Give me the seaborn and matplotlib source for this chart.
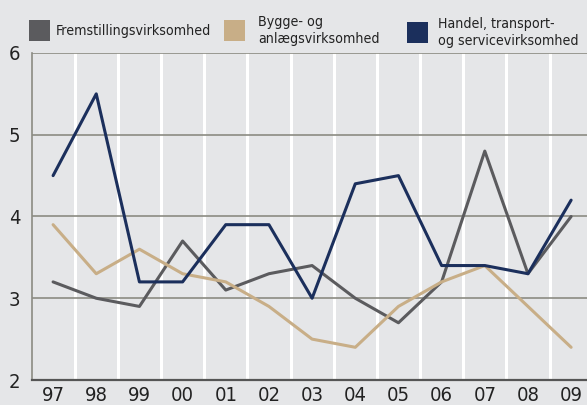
import matplotlib
matplotlib.use("Agg")
import matplotlib.pyplot as plt
import seaborn as sns
import pandas as pd
from matplotlib.patches import Rectangle

years = ["97", "98", "99", "00", "01", "02", "03", "04", "05", "06", "07", "08", "09"]
fremstilling = [3.2, 3.0, 2.9, 3.7, 3.1, 3.3, 3.4, 3.0, 2.7, 3.2, 4.8, 3.3, 4.0]
bygge = [3.9, 3.3, 3.6, 3.3, 3.2, 2.9, 2.5, 2.4, 2.9, 3.2, 3.4, 2.9, 2.4]
handel = [4.5, 5.5, 3.2, 3.2, 3.9, 3.9, 3.0, 4.4, 4.5, 3.4, 3.4, 3.3, 4.2]

series_names = ["Fremstillingsvirksomhed", "Bygge- og\nanlægsvirksomhed",
                "Handel, transport-\nog servicevirksomhed"]
colors = ["#5b5b5e", "#c8ae87", "#1b2f5c"]
bg = "#e5e6e8"

df = pd.DataFrame({"year": years, series_names[0]: fremstilling,
                   series_names[1]: bygge, series_names[2]: handel})
df["x"] = range(len(years))
mdf = df.melt(id_vars=["year", "x"], var_name="serie", value_name="value")

sns.set_style("white")
plt.rcParams["font.family"] = ["DejaVu Sans"]
plt.rcParams["font.stretch"] = "condensed"

fig = plt.figure(figsize=(5.87, 4.05), dpi=100, facecolor=bg)
ax = fig.add_axes([31.5 / 587, 1 - 380 / 405, 1 - 31.5 / 587, (380 - 53) / 405])
ax.set_facecolor(bg)

# white vertical separators between years
for i in range(len(years) - 1):
    ax.axvline(i + 0.5, color="white", lw=2.2, zorder=0)
for yv in [3, 4, 5, 6]:
    ax.axhline(yv, color="#8b8b83", lw=1.2, zorder=1)

sns.lineplot(data=mdf, x="x", y="value", hue="serie", palette=colors,
             hue_order=series_names, lw=2.2, ax=ax, legend=False, zorder=3)

ax.set_xlim(-0.5, -0.5 + (587 - 31.5) / 43.17)
ax.set_ylim(2, 6)
ax.set_xticks(range(len(years)))
ax.set_xticklabels(years)
ax.set_yticks([2, 3, 4, 5, 6])
ax.set_xlabel("")
ax.set_ylabel("")
ax.tick_params(axis="both", length=0, labelsize=14.5, colors="#222222")
ax.tick_params(axis="x", pad=4)
ax.tick_params(axis="y", pad=8)
for s in ["top", "right"]:
    ax.spines[s].set_visible(False)
ax.spines["left"].set_color("#8b8b83")
ax.spines["left"].set_linewidth(1.2)
ax.spines["bottom"].set_color("#555555")
ax.spines["bottom"].set_linewidth(1.6)

# legend: square swatches with labels, laid out along the top
W, H = 587, 405
legend_pos = [(29, 20, 56), (224, 20, 258), (407, 22, 438)]
for (px, py, tx), c, name in zip(legend_pos, colors, series_names):
    fig.add_artist(Rectangle((px / W, 1 - (py + 21) / H), 21 / W, 21 / H,
                             transform=fig.transFigure, facecolor=c, edgecolor="none"))
    fig.text(tx / W, 1 - (py + 10.5) / H, name, ha="left", va="center",
             fontsize=10.2, color="#222222", linespacing=1.2)

fig.savefig("out.png", dpi=100, facecolor=bg)
